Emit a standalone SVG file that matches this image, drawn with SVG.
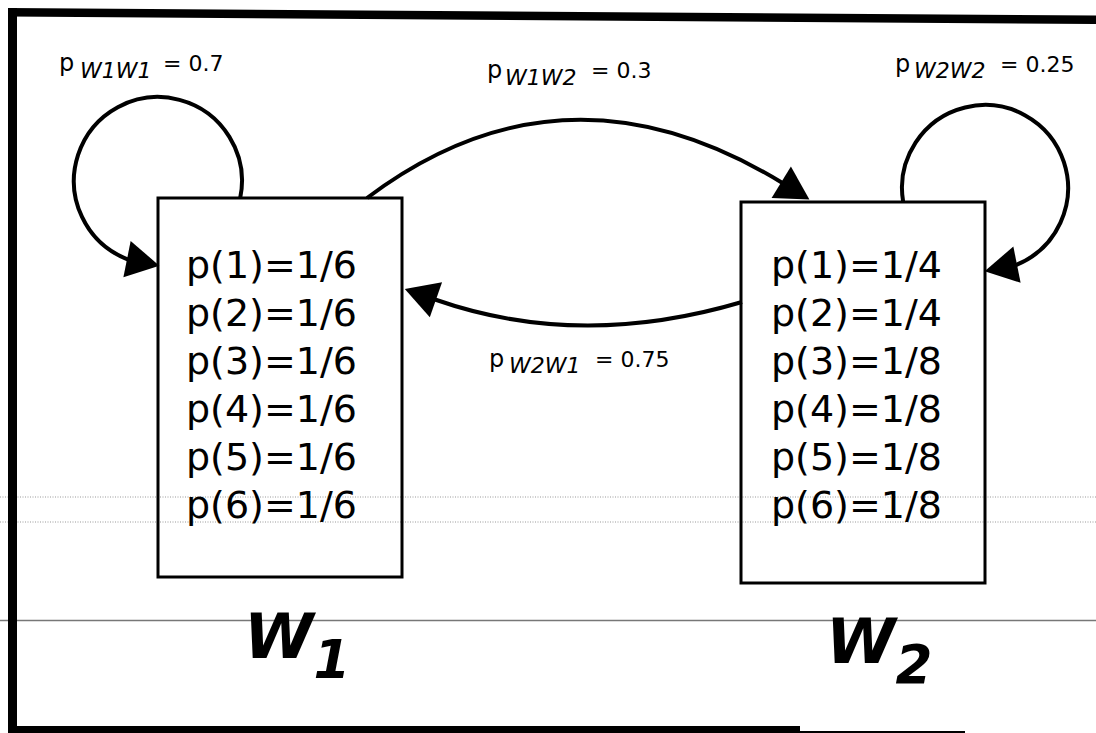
<svg xmlns="http://www.w3.org/2000/svg" width="1096" height="733" viewBox="0 0 1096 733">
<defs>
<style>
.box{fill:none;stroke:#000;stroke-width:3}
.edge{fill:none;stroke:#000;stroke-width:4}
.prob{font-family:"DejaVu Sans",Verdana,sans-serif;font-size:38px;fill:#000}
.big{font-family:"DejaVu Sans",Verdana,sans-serif;font-weight:bold;font-style:italic;font-size:63px;fill:#000}
.lbl{font-family:"DejaVu Sans",Verdana,sans-serif;font-size:22px;fill:#000}
.pp{font-size:24px}
.sub{font-style:italic;font-size:22px}
.scan{stroke:#999;stroke-width:1;stroke-dasharray:1 1.5}
</style>
<marker id="arr" markerUnits="userSpaceOnUse" viewBox="0 -19 34 38" markerWidth="34" markerHeight="38" refX="1" refY="0" orient="auto" overflow="visible">
<path d="M0,-18.5 L33,0 L0,18.5 Z" fill="#000"/>
</marker>
</defs>
<rect width="1096" height="733" fill="#fff"/>
<g id="frame">
<line x1="0" y1="620.5" x2="1096" y2="620.5" stroke="#777" stroke-width="1.5"/>
<line class="scan" x1="0" y1="497" x2="1096" y2="497"/>
<line class="scan" x1="0" y1="522" x2="1096" y2="522"/>
<polygon points="8,8 1096,15.5 1096,24 8,16.5" fill="#000"/>
<rect x="8" y="8" width="9" height="725" fill="#000"/>
<rect x="8" y="726" width="792" height="7" fill="#000"/>
<line x1="800" y1="732" x2="965" y2="732" stroke="#000" stroke-width="2"/>
</g>
<g id="connectors">
<path class="edge" d="M240.2,198 A84,84 0 1 0 127.5,259.3 L128,259.4" marker-end="url(#arr)"/>
<path class="edge" d="M903.2,202 A83,83 0 1 1 1016.5,264.8 L1016,264.9" marker-end="url(#arr)"/>
<path class="edge" d="M367,198 Q564.4,49.5 782.1,182.8" marker-end="url(#arr)"/>
<path class="edge" d="M742,302 Q579.5,350.2 435,299.5" marker-end="url(#arr)"/>
<text class="lbl" y="71"><tspan class="pp" x="59">p</tspan><tspan class="sub" x="80" y="78">W1W1</tspan><tspan x="163" y="71">= 0.7</tspan></text>
<text class="lbl" y="78"><tspan class="pp" x="487">p</tspan><tspan class="sub" x="505" y="85">W1W2</tspan><tspan x="591" y="78">= 0.3</tspan></text>
<text class="lbl" y="72"><tspan class="pp" x="895">p</tspan><tspan class="sub" x="914" y="78">W2W2</tspan><tspan x="1000" y="72">= 0.25</tspan></text>
<text class="lbl" y="367"><tspan class="pp" x="489">p</tspan><tspan class="sub" x="509" y="373">W2W1</tspan><tspan x="595" y="367">= 0.75</tspan></text>
</g>
<g id="node-w1">
<rect class="box" x="158" y="198" width="244" height="379"/>
<text class="prob" x="186" y="278">p(1)=1/6</text>
<text class="prob" x="186" y="326">p(2)=1/6</text>
<text class="prob" x="186" y="374">p(3)=1/6</text>
<text class="prob" x="186" y="422">p(4)=1/6</text>
<text class="prob" x="186" y="470">p(5)=1/6</text>
<text class="prob" x="186" y="518">p(6)=1/6</text>
<text class="big" x="244" y="658">W<tspan font-size="53" y="678">1</tspan></text>
</g>
<g id="node-w2">
<rect class="box" x="741" y="202" width="244" height="381"/>
<text class="prob" x="771" y="278">p(1)=1/4</text>
<text class="prob" x="771" y="326">p(2)=1/4</text>
<text class="prob" x="771" y="374">p(3)=1/8</text>
<text class="prob" x="771" y="422">p(4)=1/8</text>
<text class="prob" x="771" y="470">p(5)=1/8</text>
<text class="prob" x="771" y="518">p(6)=1/8</text>
<text class="big" x="826" y="663">W<tspan font-size="53" y="683">2</tspan></text>
</g>
</svg>
